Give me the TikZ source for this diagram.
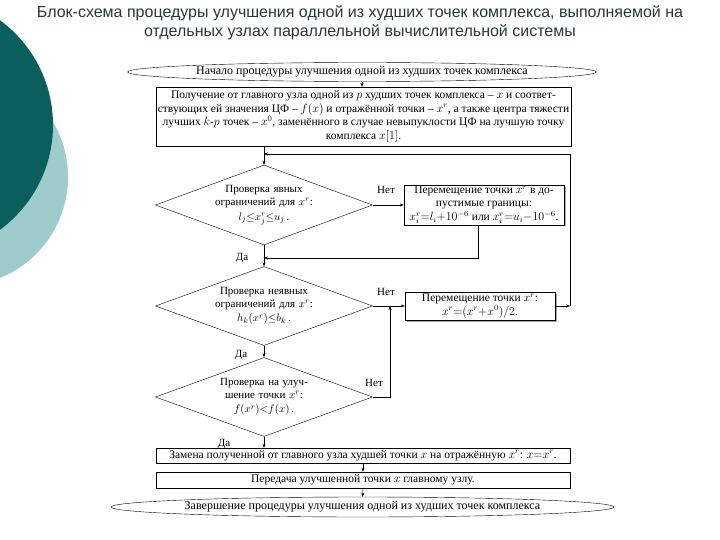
\documentclass[tikz,border=0pt]{standalone}
\usepackage{fontspec}
\setmainfont{Liberation Serif}
\newfontfamily\titlefont{Liberation Sans}
\usetikzlibrary{arrows.meta,positioning,shapes.geometric,shadows}
\definecolor{slidedark}{RGB}{10,95,92}
\definecolor{slidelight}{RGB}{158,203,204}
\definecolor{titlegray}{RGB}{38,56,56}

\begin{document}
\begin{tikzpicture}[x=1pt,y=-1pt,
  term/.style={ellipse,draw,thin,minimum width=419pt,minimum height=19pt,inner sep=0pt,font=\fontsize{12}{13}\selectfont},
  proc/.style={rectangle,draw,thin,fill=white,align=center,inner sep=1pt,font=\fontsize{11.5}{13.5}\selectfont},
  shade/.style={drop shadow={shadow xshift=1.5pt,shadow yshift=-1.5pt,fill=gray!70,opacity=1}},
  check/.style={diamond,draw,thin,aspect=2.7,inner sep=0pt,text width=110pt,align=center,minimum width=217pt,minimum height=79pt,font=\fontsize{11}{13}\selectfont},
  lbl/.style={font=\fontsize{11}{12}\selectfont,inner sep=0pt},
  arrow/.style={-{Stealth[length=4pt,width=3pt]},thin}]
  \useasboundingbox (0,0) rectangle (720,540);
  % slide decoration
  \begin{scope}
    \clip (0,0) rectangle (720,540);
    \fill[slidelight] (-41,177) circle (109);
    \fill[slidedark] (-77,125) circle (130);
  \end{scope}
  \node[font=\titlefont\fontsize{16}{19}\selectfont,text=titlegray,align=center] (title) at (360,23)
    {Блок-схема процедуры улучшения одной из худших точек комплекса, выполняемой на\\
     отдельных узлах параллельной вычислительной системы};

  % flowchart
  \node[term] (start) at (362,72) {Начало процедуры улучшения одной из худших точек комплекса};
  \node[proc,minimum width=415pt,minimum height=59pt] (obtain) at (363.5,116.5)
    {Получение от главного узла одной из $p$ худших точек комплекса -- $x$ и соответ-\\
     ствующих ей значения ЦФ -- $f(x)$ и отражённой точки -- $x^r$, а также центра тяжести\\
     лучших $k$-$p$ точек -- $x^0$, заменённого в случае невыпуклости ЦФ на лучшую точку\\
     комплекса $x[1]$.};
  \node[check] (chk1) at (264,205) {Проверка явных\\ограничений для $x^r$:\\[1.5pt]$l_j{\le}x^r_j{\le}u_j$\,.};
  \node[proc,shade,minimum width=160pt,minimum height=38pt,font=\fontsize{11.5}{12.5}\selectfont] (move1) at (484,205)
    {Перемещение точки $x^r$ в до-\\пустимые границы:\\[2pt]$x^r_i{=}l_i{+}10^{-6}$ или $x^r_i{=}u_i{-}10^{-6}$.};
  \node[check] (chk2) at (264,306) {Проверка неявных\\ограничений для $x^r$:\\[1.5pt]$h_k(x^r){\le}b_k$\,.};
  \node[proc,shade,minimum width=150pt,minimum height=28pt] (move2) at (480,306)
    {Перемещение точки $x^r$:\\$x^r{=}(x^r{+}x^0)/2$.};
  \node[check] (chk3) at (264,397) {Проверка на улуч-\\шение точки $x^r$:\\[1.5pt]$f(x^r){<}f(x)$\,.};
  \node[proc,minimum width=414pt,minimum height=15pt] (replace) at (363,455.5)
    {Замена полученной от главного узла худшей точки $x$ на отражённую $x^r$: $x{=}x^r$.};
  \node[proc,minimum width=414pt,minimum height=16pt] (send) at (363,480)
    {Передача улучшенной точки $x$ главному узлу.};
  \node[term,minimum height=20pt] (finish) at (362.5,507) {Завершение процедуры улучшения одной из худших точек комплекса};

  \node[lbl] (no1) at (386,190) {Нет};
  \node[lbl] (no2) at (386,292) {Нет};
  \node[lbl] (no3) at (374,383) {Нет};
  \node[lbl] (yes1) at (242,258) {Да};
  \node[lbl] (yes2) at (241,355) {Да};
  \node[lbl] (yes3) at (224,444) {Да};

  \coordinate (loopin) at (264,154);
  \coordinate (join1) at (264,258);
  \coordinate (rbot) at (570,306);
  \coordinate (join3) at (390,306);

  \draw[arrow] (start) -- (start |- obtain.north);
  \draw[arrow] (obtain.south -| chk1) -- (chk1.north);
  \draw[arrow] (chk1.east) -- (chk1.east -| move1.west);
  \draw[arrow] ([xshift=-6pt]move1.south) |- (join1);
  \draw[arrow] (chk1.south) -- (chk2.north);
  \draw[arrow] (chk2.east) -- (chk2.east -| move2.west);
  \draw[arrow] (move2.east) -- (rbot);
  \draw[arrow] (rbot) |- (loopin);
  \draw[arrow] (chk3.east) -| (join3);
  \draw[arrow] (chk2.south) -- (chk3.north);
  \draw[arrow] (chk3.south) -- (chk3.south |- replace.north);
  \draw[arrow] (replace) -- (send);
  \draw[arrow] (send) -- (finish);
\end{tikzpicture}
\end{document}
